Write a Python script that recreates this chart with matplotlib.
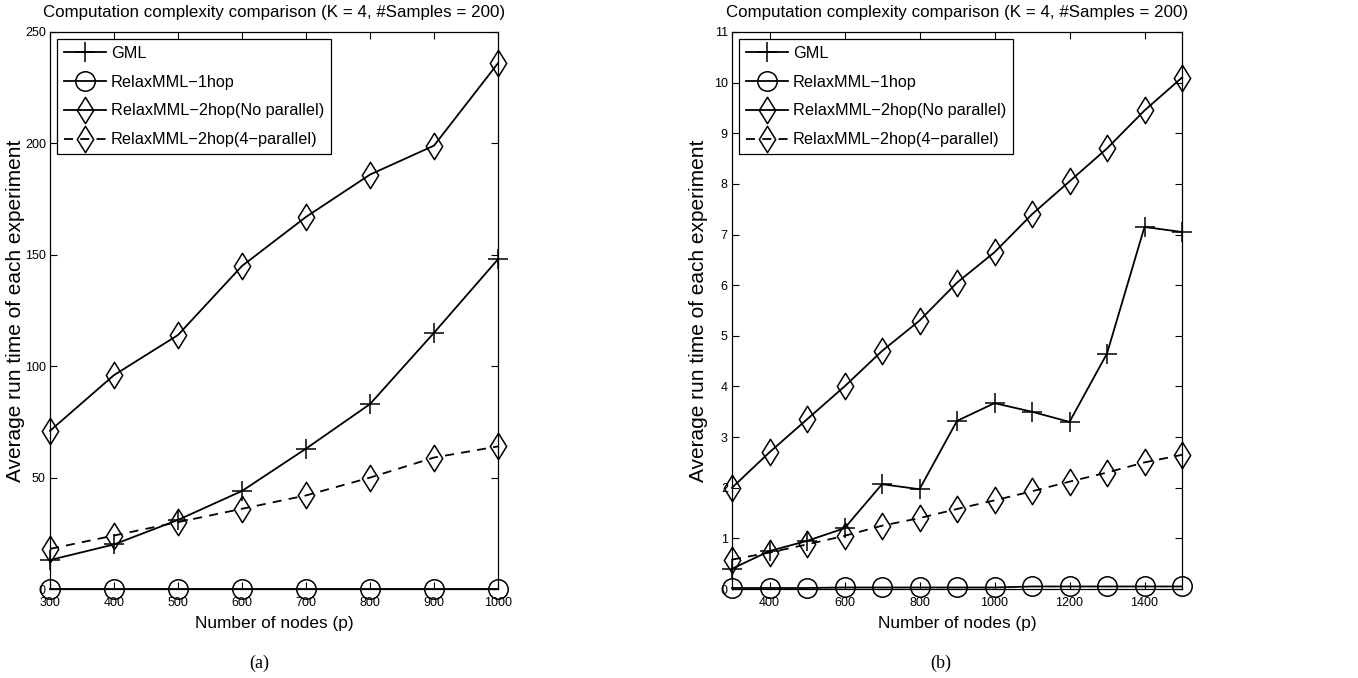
import numpy as np
import matplotlib
matplotlib.use("Agg")
import matplotlib.pyplot as plt
from matplotlib.path import Path

plt.rcParams['font.family'] = ['Liberation Sans', 'DejaVu Sans']

# panel (a)
nodes_a = [300, 400, 500, 600, 700, 800, 900, 1000]
gml_a = [13, 20, 31, 44, 63, 83, 115, 148]
hop1_a = [0.2, 0.2, 0.2, 0.2, 0.2, 0.2, 0.2, 0.2]
hop2_np_a = [71, 96, 114, 145, 167, 186, 199, 236]
hop2_p4_a = [18, 24, 30, 36, 42, 50, 59, 64]

# panel (b)
nodes_b = [300, 400, 500, 600, 700, 800, 900, 1000, 1100, 1200, 1300, 1400, 1500]
gml_b = [0.4, 0.75, 0.95, 1.2, 2.07, 1.97, 3.32, 3.67, 3.5, 3.3, 4.65, 7.15, 7.05]
hop1_b = [0.02, 0.02, 0.02, 0.03, 0.03, 0.03, 0.03, 0.03, 0.05, 0.05, 0.05, 0.05, 0.05]
hop2_np_b = [2.0, 2.7, 3.35, 4.0, 4.7, 5.3, 6.05, 6.65, 7.4, 8.05, 8.7, 9.45, 10.1]
hop2_p4_b = [0.58, 0.72, 0.88, 1.05, 1.25, 1.4, 1.58, 1.75, 1.93, 2.12, 2.3, 2.5, 2.65]

labels = ['GML', 'RelaxMML\u22121hop', 'RelaxMML\u22122hop(No parallel)',
          'RelaxMML\u22122hop(4\u2212parallel)']
title = 'Computation complexity comparison (K = 4, #Samples = 200)'

diamond = Path([(0, 1), (0.62, 0), (0, -1), (-0.62, 0), (0, 1)],
               [Path.MOVETO, Path.LINETO, Path.LINETO, Path.LINETO, Path.CLOSEPOLY])


def draw(ax, x, gml, hop1, np2, p4, ylim, yticks, xticks, ylab_x):
    kw = dict(color='black', lw=1.3, mfc='none', mec='black', mew=1.1, clip_on=False)
    ax.plot(x, gml, '-', marker='+', ms=15, label=labels[0], **kw)
    ax.plot(x, hop1, '-', marker='o', ms=14, label=labels[1], **kw)
    ax.plot(x, np2, '-', marker=diamond, ms=19, label=labels[2], **kw)
    ax.plot(x, p4, '--', marker=diamond, ms=19, label=labels[3], dashes=(5, 4), **kw)
    ax.set_xlim(x[0], x[-1])
    ax.set_ylim(*ylim)
    ax.set_yticks(yticks)
    ax.set_xticks(xticks)
    ax.tick_params(direction='in', top=True, right=True, labelsize=9, length=5)
    ax.tick_params(axis='x', pad=6)
    ax.tick_params(axis='y', pad=3)
    ax.set_title(title, fontsize=12.2, pad=11)
    ax.set_xlabel('Number of nodes (p)', fontsize=12.4, labelpad=5)
    ax.set_ylabel('Average run time of each experiment', fontsize=15)
    ax.yaxis.set_label_coords(ylab_x, 0.5)
    leg = ax.legend(loc='upper left', fontsize=11.7, handlelength=2.6, handletextpad=0.3,
                    borderpad=0.4, labelspacing=0.85, fancybox=False, edgecolor='black',
                    borderaxespad=0.45, framealpha=1)
    leg.get_frame().set_linewidth(0.9)
    for s in ax.spines.values():
        s.set_linewidth(0.9)


fig = plt.figure(figsize=(13.58, 6.78), dpi=100)
ax1 = fig.add_axes([50 / 1358, 89 / 678, 448 / 1358, 557 / 678])
ax2 = fig.add_axes([732 / 1358, 89 / 678, 450 / 1358, 557 / 678])

draw(ax1, nodes_a, gml_a, hop1_a, hop2_np_a, hop2_p4_a, (0, 250),
     [0, 50, 100, 150, 200, 250], nodes_a, -0.056)
draw(ax2, nodes_b, gml_b, hop1_b, hop2_np_b, hop2_p4_b, (0, 11),
     list(range(0, 12)), [400, 600, 800, 1000, 1200, 1400], -0.053)

fig.text(259 / 1358, 1 - 663 / 678, '(a)', ha='center', va='center',
         fontsize=13, family='Liberation Serif')
fig.text(941 / 1358, 1 - 663 / 678, '(b)', ha='center', va='center',
         fontsize=13, family='Liberation Serif')

fig.savefig('out.png', dpi=100)
